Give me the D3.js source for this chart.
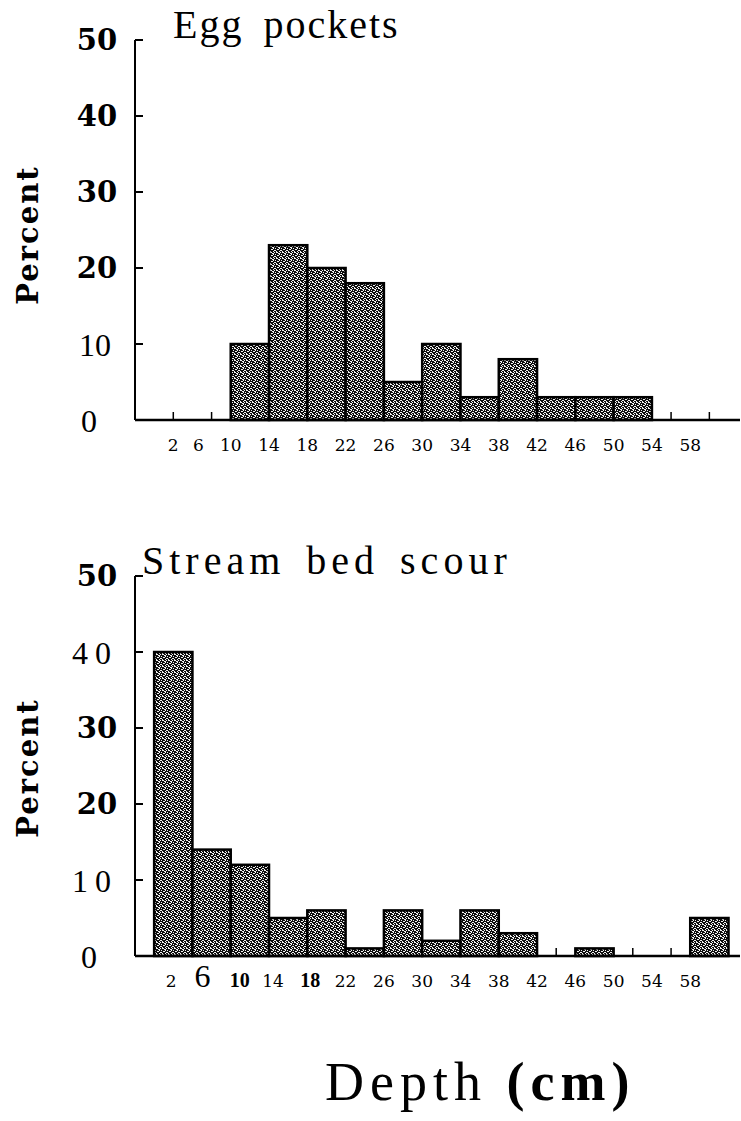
<!DOCTYPE html>
<html>
<head>
<meta charset="utf-8">
<script src="https://cdn.jsdelivr.net/npm/d3@7"></script>
<style>
  body { margin: 0; background: #fff; }
  svg { display: block; }
</style>
</head>
<body>
<div id="chart"></div>
<script>
// depth bins (cm), each bar covers [start, start + 4)
var binStarts = [2, 6, 10, 14, 18, 22, 26, 30, 34, 38, 42, 46, 50, 54, 58];
var binWidth = 4;

// percent per bin
var eggPockets = [0, 0, 10, 23, 20, 18, 5, 10, 3, 8, 3, 3, 3, 0, 0];
var streamScour = [40, 14, 12, 5, 6, 1, 6, 2, 6, 3, 0, 1, 0, 0, 5];

// axis labels
var xTickLabels = ["2", "6", "10", "14", "18", "22", "26", "30", "34", "38", "42", "46", "50", "54", "58"];
var yTickValues = [50, 40, 30, 20, 10, 0];

var svg = d3.select("#chart")
    .append("svg")
    .attr("width", 741)
    .attr("height", 1121);

// coarse halftone fill, like the scanned print
var defs = svg.append("defs");
var pat = defs.append("pattern")
    .attr("id", "stipple")
    .attr("patternUnits", "userSpaceOnUse")
    .attr("width", 6)
    .attr("height", 6);
pat.append("rect").attr("width", 6).attr("height", 6).attr("fill", "#0d0d0d");
[[0, 0, 2, 1], [3, 1, 1, 2], [1, 3, 2, 1], [4, 4, 2, 1], [0, 5, 1, 1], [5, 2, 1, 1], [2, 1, 1, 1], [4, 0, 1, 1], [3, 5, 1, 1]]
    .forEach(function (p) {
        pat.append("rect")
            .attr("x", p[0]).attr("y", p[1])
            .attr("width", p[2]).attr("height", p[3])
            .attr("fill", "#f2f2f2");
    });

var x = d3.scaleLinear()
    .domain([0, 63.2])
    .range([135, 740]);

function drawPanel(opts) {
    var y = d3.scaleLinear()
        .domain([0, 50])
        .range([opts.base, opts.base - 380]);

    var g = svg.append("g");

    // little ticks at bin centres along the baseline
    g.selectAll(".midtick")
        .data(binStarts)
        .enter().append("line")
        .attr("x1", d => x(d + binWidth / 2))
        .attr("x2", d => x(d + binWidth / 2))
        .attr("y1", y(0))
        .attr("y2", y(0) - 8)
        .attr("stroke", "#000")
        .attr("stroke-width", 1.5);

    // bars
    var rows = binStarts.map((b, i) => ({ start: b, value: opts.values[i] }))
        .filter(d => d.value > 0);

    g.selectAll(".bar")
        .data(rows)
        .enter().append("rect")
        .attr("class", "bar")
        .attr("x", d => x(d.start))
        .attr("y", d => y(d.value))
        .attr("width", d => x(d.start + binWidth) - x(d.start))
        .attr("height", d => y(0) - y(d.value))
        .attr("fill", "url(#stipple)")
        .attr("stroke", "#000")
        .attr("stroke-width", 2.5);

    // x axis line
    g.append("line")
        .attr("x1", x(0)).attr("x2", x(63.2))
        .attr("y1", y(0)).attr("y2", y(0))
        .attr("stroke", "#000").attr("stroke-width", 2.5);

    // y axis
    g.append("line")
        .attr("x1", x(0)).attr("x2", x(0))
        .attr("y1", y(50)).attr("y2", y(0))
        .attr("stroke", "#000").attr("stroke-width", 2);

    g.selectAll(".ytick")
        .data(yTickValues.filter(d => d > 0))
        .enter().append("line")
        .attr("x1", x(0)).attr("x2", x(0) + 8)
        .attr("y1", d => y(d)).attr("y2", d => y(d))
        .attr("stroke", "#000").attr("stroke-width", 2);

    var isBold = d => opts.yBold.indexOf(d) >= 0;
    g.selectAll(".ylab")
        .data(yTickValues)
        .enter().append("text")
        .attr("x", d => d === 0 ? 89 : (isBold(d) ? 97 : 95))
        .attr("y", d => y(d))
        .attr("dy", "0.36em")
        .attr("text-anchor", "middle")
        .style("font-family", d => isBold(d) ? "'DejaVu Serif', serif" : "'Liberation Serif', serif")
        .style("font-size", d => isBold(d) ? "29px" : "32px")
        .style("font-weight", d => isBold(d) ? "bold" : "normal")
        .style("letter-spacing", d => opts.ySpaced.indexOf(d) >= 0 ? "7px" : "0px")
        .text(d => String(d));

    // x tick labels
    g.selectAll(".xlab")
        .data(binStarts)
        .enter().append("text")
        .attr("x", (d, i) => x(d) + (opts.nudge[i] || 0))
        .attr("y", y(0) + 31)
        .attr("text-anchor", "middle")
        .style("font-family", (d, i) => opts.xSpecial[i] ? "'Liberation Serif', serif" : "'DejaVu Serif', serif")
        .style("font-size", (d, i) => opts.xSpecial[i] === "big" ? "32px" : (opts.xSpecial[i] === "bold" ? "20px" : "17px"))
        .style("font-weight", (d, i) => opts.xSpecial[i] === "bold" ? "bold" : "normal")
        .text((d, i) => xTickLabels[i]);

    // y title
    svg.append("text")
        .attr("transform", "translate(38," + opts.percentY + ") rotate(-90)")
        .attr("text-anchor", "middle")
        .style("font-family", "'DejaVu Serif', serif")
        .style("font-weight", "bold")
        .style("font-size", "29px")
        .style("letter-spacing", "2px")
        .text("Percent");

    // panel title
    svg.append("text")
        .attr("x", opts.titleX)
        .attr("y", opts.titleY)
        .style("font-family", "'Liberation Serif', serif")
        .style("font-size", opts.titleSize)
        .style("letter-spacing", opts.titleSpacing)
        .style("word-spacing", opts.wordSpacing)
        .text(opts.title);
}

drawPanel({
    values: eggPockets,
    base: 420,
    title: "Egg pockets",
    titleX: 173, titleY: 38,
    titleSize: "40px", titleSpacing: "2px", wordSpacing: "8px",
    percentY: 235,
    yBold: [50, 40, 30, 20],
    ySpaced: [],
    nudge: [19, 6],
    xSpecial: []
});

drawPanel({
    values: streamScour,
    base: 956,
    title: "Stream bed scour",
    titleX: 142, titleY: 574,
    titleSize: "40px", titleSpacing: "5px", wordSpacing: "6px",
    percentY: 768,
    yBold: [50, 30, 20],
    ySpaced: [40, 10],
    nudge: [17, 10, 9, 4, 3],
    xSpecial: [null, "big", "bold", null, "bold"]
});

// shared x title
var xt = svg.append("text")
    .attr("x", 325)
    .attr("y", 1100)
    .style("font-family", "'Liberation Serif', serif")
    .style("font-size", "54px")
    .style("letter-spacing", "6px");
xt.append("tspan").text("Depth ");
xt.append("tspan").style("font-weight", "bold").text("(cm)");
</script>
</body>
</html>
